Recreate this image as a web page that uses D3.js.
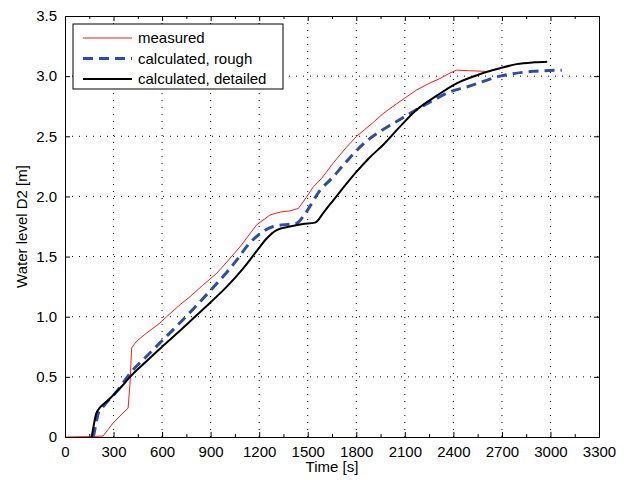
<!DOCTYPE html>
<html>
<head>
<meta charset="utf-8">
<script src="https://cdn.jsdelivr.net/npm/d3@7"></script>
<style>
  body { margin: 0; background: #fff; }
  svg { font-family: "Liberation Sans", Arial, sans-serif; }
</style>
</head>
<body>
<svg id="chart" width="630" height="480"></svg>
<script>
// measured water level (time [s], level [m])
var measuredT = [0, 150, 235, 265, 297, 340, 371, 390, 402, 412, 430, 451, 500, 587, 628, 711, 772, 850, 937, 1000, 1081, 1184, 1267, 1330, 1390, 1442, 1490, 1535, 1586, 1659, 1740, 1802, 1900, 1967, 2070, 2173, 2250, 2317, 2370, 2420, 2500, 2595];
var measuredV = [0, 0.003, 0.008, 0.06, 0.116, 0.175, 0.216, 0.24, 0.45, 0.74, 0.775, 0.806, 0.86, 0.948, 1.0, 1.10, 1.166, 1.26, 1.36, 1.455, 1.58, 1.763, 1.846, 1.87, 1.88, 1.90, 1.99, 2.08, 2.15, 2.28, 2.41, 2.50, 2.61, 2.69, 2.79, 2.885, 2.94, 2.98, 3.02, 3.05, 3.045, 3.04];

// calculated, rough
var roughT = [175, 190, 206, 240, 280, 319, 402, 500, 600, 700, 800, 900, 1000, 1061, 1133, 1205, 1287, 1390, 1432, 1480, 1576, 1658, 1720, 1864, 1947, 2070, 2276, 2379, 2482, 2688, 2894, 3070];
var roughV = [0, 0.10, 0.197, 0.26, 0.32, 0.377, 0.53, 0.665, 0.80, 0.935, 1.075, 1.22, 1.37, 1.47, 1.60, 1.69, 1.75, 1.77, 1.777, 1.85, 2.05, 2.164, 2.26, 2.46, 2.54, 2.64, 2.80, 2.87, 2.91, 3.0, 3.04, 3.05];

// calculated, detailed
var detailedT = [165, 178, 192, 210, 235, 270, 299, 350, 402, 500, 600, 700, 800, 900, 1000, 1100, 1190, 1246, 1308, 1390, 1470, 1545, 1600, 1659, 1730, 1802, 1880, 1967, 2070, 2173, 2300, 2420, 2550, 2688, 2791, 2900, 2980];
var detailedV = [0, 0.10, 0.19, 0.235, 0.27, 0.31, 0.349, 0.42, 0.50, 0.625, 0.75, 0.87, 0.995, 1.12, 1.25, 1.40, 1.555, 1.65, 1.72, 1.75, 1.77, 1.782, 1.87, 1.97, 2.09, 2.206, 2.32, 2.43, 2.58, 2.72, 2.84, 2.94, 3.01, 3.065, 3.10, 3.115, 3.12];

var xTicks = [0, 300, 600, 900, 1200, 1500, 1800, 2100, 2400, 2700, 3000, 3300];
var yTicks = [0, 0.5, 1.0, 1.5, 2.0, 2.5, 3.0, 3.5];
var yTickLabels = ["0", "0.5", "1.0", "1.5", "2.0", "2.5", "3.0", "3.5"];
var seriesNames = ["measured", "calculated, rough", "calculated, detailed"];

var svg = d3.select("#chart");
var margin = {left: 65, top: 16, right: 31, bottom: 43};
var width = 630 - margin.left - margin.right,
    height = 480 - margin.top - margin.bottom;

var g = svg.append("g").attr("transform", "translate(" + margin.left + "," + margin.top + ")");

var x = d3.scaleLinear().domain([0, 3300]).range([0, width]);
var y = d3.scaleLinear().domain([0, 3.5]).range([height, 0]);

// dotted grid
g.selectAll(".gx").data(xTicks.slice(1, -1)).enter().append("line")
    .attr("x1", d => x(d)).attr("x2", d => x(d))
    .attr("y1", 0).attr("y2", height)
    .attr("stroke", "#000").attr("stroke-width", 1)
    .attr("stroke-dasharray", "1,6");
g.selectAll(".gy").data(yTicks.slice(1, -1)).enter().append("line")
    .attr("y1", d => y(d)).attr("y2", d => y(d))
    .attr("x1", 0).attr("x2", width)
    .attr("stroke", "#000").attr("stroke-width", 1)
    .attr("stroke-dasharray", "1,6");

// series
var series = [
    {t: measuredT, v: measuredV, color: "#ff1a1a", w: 1, dash: null, curve: d3.curveLinear},
    {t: roughT, v: roughV, color: "#2c4ea6", w: 3, dash: "10,6", curve: d3.curveMonotoneX},
    {t: detailedT, v: detailedV, color: "#000", w: 2, dash: null, curve: d3.curveMonotoneX}
];

series.forEach(function(s) {
    var line = d3.line()
        .x(function(d, i) { return x(s.t[i]); })
        .y(function(d, i) { return y(s.v[i]); })
        .curve(s.curve);
    g.append("path")
        .attr("d", line(s.t))
        .attr("fill", "none")
        .attr("stroke", s.color)
        .attr("stroke-width", s.w)
        .attr("stroke-dasharray", s.dash);
});

// axes, ticks inward on all sides (matlab look)
var xMinor = d3.range(150, 3300, 300);
var axisBottom = d3.axisBottom(x).tickValues(xTicks).tickSize(-5).tickPadding(9).tickFormat(d3.format("d"));
var axisTop = d3.axisTop(x).tickValues(xTicks).tickSize(-5).tickFormat("");
var axisLeft = d3.axisLeft(y).tickValues(yTicks).tickSize(-5).tickPadding(8)
    .tickFormat(function(d, i) { return yTickLabels[i]; });
var axisRight = d3.axisRight(y).tickValues(yTicks).tickSize(-5).tickFormat("");

g.append("g").attr("transform", "translate(0," + height + ")").call(axisBottom);
g.append("g").call(axisTop);
g.append("g").call(axisLeft);
g.append("g").attr("transform", "translate(" + width + ",0)").call(axisRight);

g.append("g").attr("transform", "translate(0," + height + ")")
    .call(d3.axisBottom(x).tickValues(xMinor).tickSize(-3).tickFormat(""));
g.append("g")
    .call(d3.axisTop(x).tickValues(xMinor).tickSize(-3).tickFormat(""));

g.selectAll(".domain").attr("stroke", "#000");
g.selectAll(".tick line").attr("stroke", "#000");
g.selectAll(".tick text").attr("font-size", 15).attr("fill", "#000")
    .attr("font-family", "Liberation Sans, Arial, sans-serif");

// axis labels
svg.append("text")
    .attr("x", margin.left + width / 2).attr("y", 472)
    .attr("text-anchor", "middle").attr("font-size", 15)
    .text("Time [s]");
svg.append("text")
    .attr("transform", "translate(27," + (margin.top + height / 2) + ") rotate(-90)")
    .attr("text-anchor", "middle").attr("font-size", 15)
    .text("Water level D2 [m]");

// legend
var legend = g.append("g").attr("transform", "translate(8,8)");
legend.append("rect")
    .attr("width", 210).attr("height", 65)
    .attr("fill", "#fff").attr("stroke", "#000").attr("stroke-width", 1);
seriesNames.forEach(function(name, i) {
    var s = series[i];
    var ly = 14 + i * 20.5;
    legend.append("line")
        .attr("x1", 10).attr("x2", 59).attr("y1", ly).attr("y2", ly)
        .attr("stroke", s.color).attr("stroke-width", s.w)
        .attr("stroke-dasharray", s.dash);
    legend.append("text")
        .attr("x", 65).attr("y", ly).attr("dy", "0.35em")
        .attr("font-size", 15)
        .text(name);
});
</script>
</body>
</html>
